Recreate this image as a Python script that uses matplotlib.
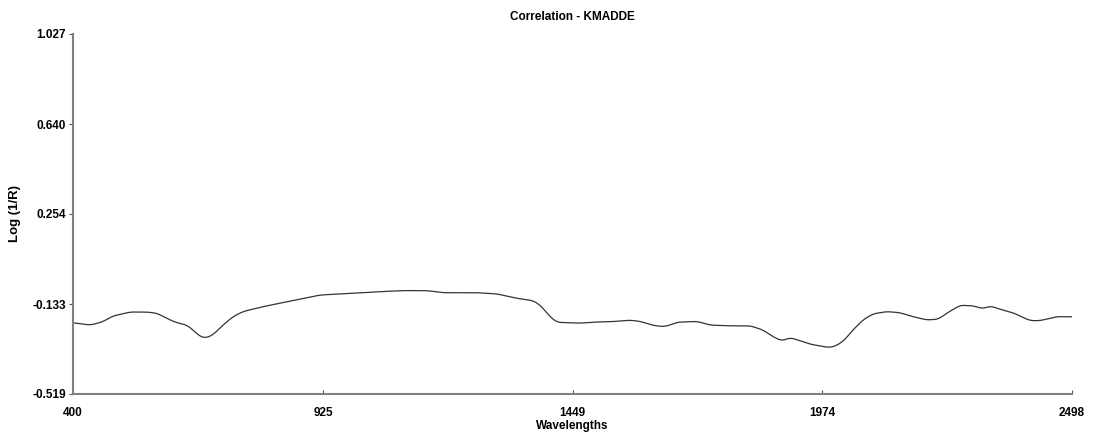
import numpy as np
import matplotlib
matplotlib.use('Agg')
import matplotlib.pyplot as plt

plt.rcParams['font.family'] = ['Liberation Sans', 'DejaVu Sans']

# spectrum samples (wavelength in nm, log(1/R))
wavelengths = [400, 436, 461, 484, 520, 555, 576, 604, 618, 639, 652, 662, 677, 694,
               715, 736, 757, 799, 849, 919, 988, 1038, 1093, 1143, 1177, 1248, 1290,
               1332, 1366, 1381, 1402, 1416, 1465, 1486, 1534, 1570, 1591, 1618, 1639,
               1654, 1668, 1710, 1738, 1773, 1822, 1849, 1870, 1889, 1906, 1927, 1948,
               1983, 1996, 2017, 2038, 2059, 2080, 2109, 2137, 2164, 2193, 2217, 2235,
               2263, 2290, 2311, 2326, 2347, 2374, 2410, 2431, 2466, 2494, 2498]
log_r = [-0.213, -0.223, -0.210, -0.184, -0.167, -0.167, -0.172, -0.201, -0.213, -0.223,
         -0.244, -0.265, -0.280, -0.265, -0.223, -0.187, -0.165, -0.144, -0.123, -0.094,
         -0.086, -0.080, -0.075, -0.075, -0.084, -0.084, -0.089, -0.108, -0.118, -0.137,
         -0.187, -0.211, -0.215, -0.211, -0.208, -0.202, -0.207, -0.224, -0.230, -0.223,
         -0.211, -0.207, -0.223, -0.226, -0.226, -0.244, -0.273, -0.291, -0.277, -0.290,
         -0.305, -0.318, -0.318, -0.294, -0.244, -0.201, -0.175, -0.165, -0.170, -0.187,
         -0.201, -0.198, -0.172, -0.138, -0.140, -0.153, -0.141, -0.155, -0.170, -0.204,
         -0.204, -0.187, -0.187, -0.188]

x_ticks = [400, 925, 1449, 1974, 2498]
y_ticks = [-0.519, -0.133, 0.254, 0.640, 1.027]

fig = plt.figure(figsize=(10.95, 4.32), dpi=100)
ax = fig.add_axes([73 / 1095, 38 / 432, 999 / 1095, 360 / 432])

# smooth the sampled points a bit for drawing
xs = np.arange(400, 2499, 2)
ys = np.interp(xs, wavelengths, log_r)
k = np.ones(9) / 9
ys_s = np.convolve(np.pad(ys, 4, mode='edge'), k, mode='valid')
ax.plot(xs, ys_s, color='#333333', lw=0.9)

ax.set_xlim(400, 2498)
ax.set_ylim(-0.519, 1.027)
ax.set_xticks(x_ticks)
ax.set_xticklabels([str(v) for v in x_ticks], fontsize=8.5, fontweight='bold')
ax.set_yticks(y_ticks)
ax.set_yticklabels(['%.3f' % v for v in y_ticks], fontsize=8.5, fontweight='bold')
ax.tick_params(axis='x', direction='in', length=3, pad=9, color='#555555')
ax.tick_params(axis='y', direction='out', length=3, pad=2, color='#555555')

for s in ['top', 'right']:
    ax.spines[s].set_visible(False)
for s in ['left', 'bottom']:
    ax.spines[s].set_color('#808080')
    ax.spines[s].set_linewidth(1.5)

ax.set_title('Correlation - KMADDE', fontsize=8.5, fontweight='bold', pad=10)
ax.set_xlabel('Wavelengths', fontsize=8.5, fontweight='bold', labelpad=1)
ax.set_ylabel('Log (1/R)', fontsize=9.5, fontweight='bold', labelpad=8)

fig.savefig('out.png', dpi=100)
